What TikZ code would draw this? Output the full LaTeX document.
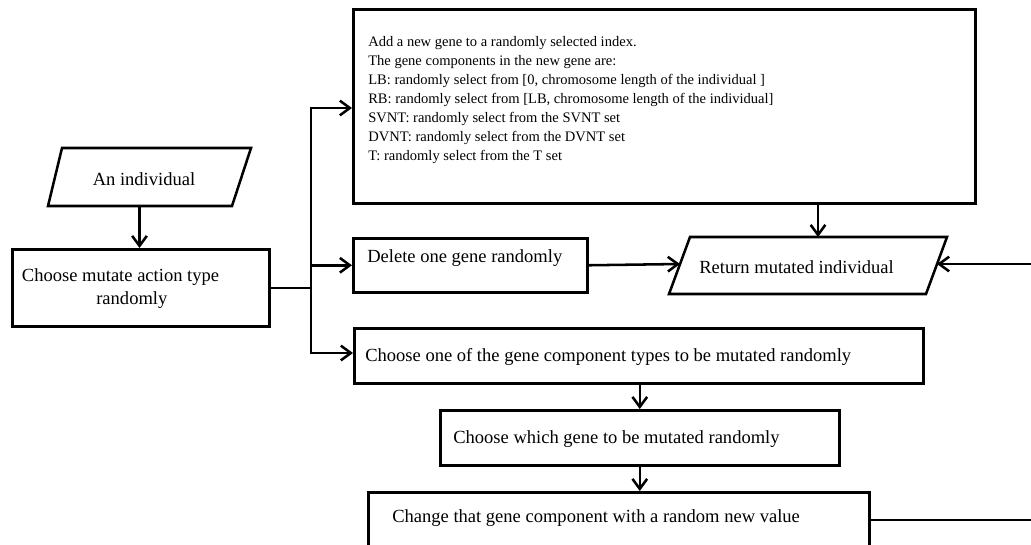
\documentclass[tikz,border=0pt]{standalone}
\usepackage{fontspec}
\setmainfont{Liberation Serif}
\usetikzlibrary{arrows.meta}
\begin{document}
\begin{tikzpicture}[x=0.75pt,y=-0.75pt,
  ln/.style={line width=1.9pt},
  arr/.style={ln,-{Straight Barb[length=7.5pt,width=11pt]}},
  box/.style={draw,line width=1.9pt,anchor=north west,inner sep=0pt},
  txt/.style={font=\fontsize{13.9}{17.25}\selectfont,inner sep=0pt,anchor=west},
  small/.style={font=\fontsize{10.9}{14.25}\selectfont,inner sep=0pt,align=left,anchor=north west}]
\useasboundingbox (0,0) rectangle (1031,544);

% input parallelogram
\draw[ln] (62,148) -- (251,148) -- (232,206) -- (48,206) -- cycle;
\node[txt,anchor=center] (ind) at (144,179) {An individual};
\coordinate (indB) at (139.5,206);

% choose mutate action
\node[box,minimum width=192.75pt,minimum height=57.75pt] (choose) at (11,248) {};
\node[txt,anchor=center,align=center] (chooseT) at (120.5,288.5) {Choose mutate action type\\\hspace*{17pt}randomly};

% add gene box
\node[box,minimum width=466.5pt,minimum height=145.5pt] (add) at (352,8) {};
\node[small] (addT) at (368,36) {Add a new gene to a randomly selected index.\\The gene components in the new gene are:\\LB: randomly select from [0, chromosome length of the individual ]\\RB: randomly select from [LB, chromosome length of the individual]\\SVNT: randomly select from the SVNT set\\DVNT: randomly select from the DVNT set\\T: randomly select from the T set};

% delete gene box
\node[box,minimum width=175.5pt,minimum height=40.5pt] (del) at (352,237) {};
\node[txt] (delT) at (367,258) {Delete one gene randomly};

% return parallelogram
\draw[ln] (690,237) -- (947,237) -- (926,294) -- (669,294) -- cycle;
\node[txt] (retT) at (699,267) {Return mutated individual};
\coordinate (retL) at (680,264);
\coordinate (retR) at (937,264);
\coordinate (retTop) at (818,237);

% mutate component chain
\node[box,minimum width=426.75pt,minimum height=41.25pt] (one) at (353,327) {};
\node[txt] (oneT) at (365,357) {Choose one of the gene component types to be mutated randomly};
\node[box,minimum width=299.25pt,minimum height=41.25pt] (which) at (439,409) {};
\node[txt] (whichT) at (453,439) {Choose which gene to be mutated randomly};
\node[box,minimum width=375.75pt,minimum height=41.25pt] (chg) at (367,491) {};
\node[txt] (chgT) at (392,518) {Change that gene component with a random new value};

% connectors
\coordinate (tTop) at (311,108);
\coordinate (tBot) at (311,353);
\coordinate (loopR) at (1040,0);
\draw[arr] (indB) -- (indB |- choose.north);
\draw[ln] (choose.east) -- (choose.east -| tTop);
\draw[arr] (tBot) -- (tTop) -- (tTop -| add.west);
\draw[arr] (tTop) -- (tBot) -- (tBot -| one.west);
\draw[arr] (del.west -| tTop) -- (del.west);
\draw[arr] (retTop |- add.south) -- (retTop);
\draw[arr] (del.east) -- (retL);
\draw[arr] (which.north |- one.south) -- (which.north);
\draw[arr] (which.south) -- (which.south |- chg.north);
\draw[arr] (chg.east) -- (chg.east -| loopR) -- (retR -| loopR) -- (retR);
\end{tikzpicture}
\end{document}
